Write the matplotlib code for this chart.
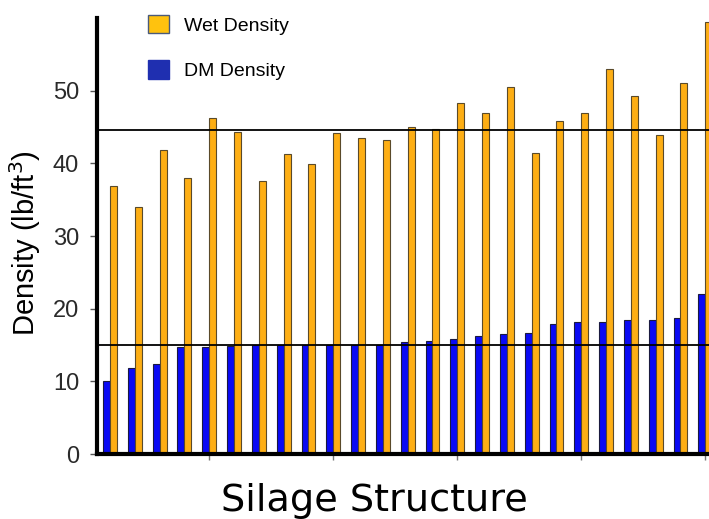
import numpy as np
import matplotlib.pyplot as plt
from matplotlib.patches import Patch

# values (lb/ft3), one per silage structure
wet_density = [36.9, 34.0, 41.8, 38.0, 46.2, 44.4, 37.6, 41.3, 39.9, 44.2,
               43.5, 43.3, 45.0, 44.7, 48.3, 47.0, 50.5, 41.5, 45.9, 46.9,
               53.0, 49.3, 43.9, 51.1, 59.5]
dm_density = [10.0, 11.9, 12.4, 14.7, 14.7, 14.9, 15.0, 15.0, 15.0, 15.0,
              15.0, 15.0, 15.5, 15.6, 15.9, 16.3, 16.6, 16.7, 17.9, 18.2,
              18.25, 18.4, 18.5, 18.75, 22.0]
wet_target = 44.6
dm_target = 15.0

x = np.arange(1, len(wet_density) + 1)
w = 0.28

fig = plt.figure(figsize=(7.09, 5.19), dpi=100)
ax = fig.add_axes([0.137, 0.125, 0.863, 0.84])

ax.bar(x - w / 2, dm_density, width=w, color='#0A0AF5', edgecolor='#1a1a40', linewidth=0.8, zorder=2)
ax.bar(x + w / 2, wet_density, width=w, color='#FDAE14', edgecolor='#5a4a2a', linewidth=0.8, zorder=2)

ax.axhline(wet_target, color='black', linewidth=1.3, zorder=3)
ax.axhline(dm_target, color='black', linewidth=1.3, zorder=3)

ax.set_xlim(0.48, 25.15)
ax.set_ylim(0, 60)
ax.set_yticks([0, 10, 20, 30, 40, 50])
ax.set_xticks([5, 10, 15, 20, 25])
ax.set_xticklabels([])
ax.tick_params(axis='y', labelsize=17, colors='#555555', length=5, width=1, pad=8)
ax.tick_params(axis='x', length=4, width=1, colors='#777777')
for lab in ax.get_yticklabels():
    lab.set_fontfamily('Liberation Sans')
    lab.set_color('#2a2a2a')

for s in ['top', 'right']:
    ax.spines[s].set_visible(False)
ax.spines['left'].set_linewidth(3)
ax.spines['bottom'].set_linewidth(3)

ax.set_ylabel('Density (lb/ft$^3$)', fontsize=21, family='Liberation Sans')
ax.yaxis.set_label_coords(-0.089, 0.484)
ax.set_xlabel('Silage Structure', fontsize=27.5, family='DejaVu Sans')
ax.xaxis.set_label_coords(0.453, -0.066)

handles = [Patch(facecolor='#FFC20E', edgecolor='#4a5a7a', label='Wet Density'),
           Patch(facecolor='#1F2FB0', edgecolor='#1F2FB0', label='DM Density')]
leg = ax.legend(handles=handles, loc='upper left',
                bbox_to_anchor=(138 / 709, 1 - 5 / 519), bbox_transform=fig.transFigure,
                frameon=False, prop={'family': 'Liberation Sans', 'size': 14},
                borderpad=0, handlelength=1.1, handleheight=1.1,
                labelspacing=1.3, handletextpad=0.75)

fig.savefig('out.png', dpi=100)
